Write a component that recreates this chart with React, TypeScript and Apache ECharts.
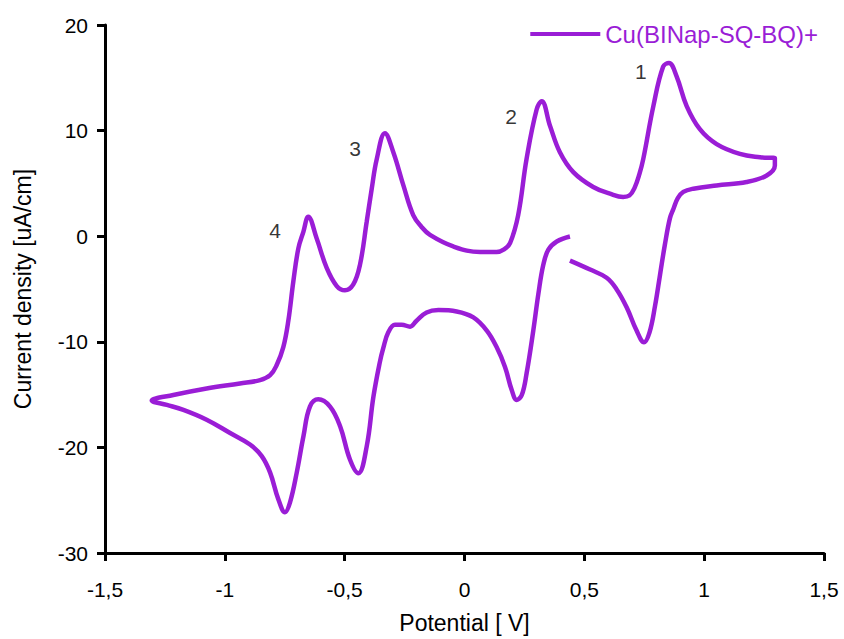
import React, { useEffect, useRef } from "react";
import * as echarts from "echarts";

// Cyclic voltammogram, traced in scan order: start at +0.44 V, sweep cathodic
// to -1.3 V, sweep anodic to +1.3 V, then back to +0.44 V.
const potential: number[] = [
  0.44, 0.385, 0.35, 0.329, 0.308, 0.287, 0.259, 0.239, 0.218, 0.197, 0.169, 0.134,
  0.093, 0.037, -0.033, -0.109, -0.158, -0.2, -0.227, -0.262, -0.29, -0.318, -0.339,
  -0.353, -0.38, -0.408, -0.443, -0.478, -0.519, -0.561, -0.61, -0.645, -0.672, -0.7,
  -0.728, -0.749, -0.777, -0.811, -0.846, -0.895, -0.978, -1.076, -1.173, -1.242, -1.305,
  -1.215, -1.076, -0.937, -0.853, -0.811, -0.784, -0.756, -0.735, -0.714, -0.693,
  -0.672, -0.652, -0.617, -0.575, -0.533, -0.499, -0.464, -0.436, -0.408, -0.387, -0.366,
  -0.332, -0.297, -0.255, -0.214, -0.18, -0.144, -0.047, 0.065, 0.134, 0.165, 0.19, 0.224,
  0.259, 0.301, 0.322, 0.357, 0.398, 0.454, 0.537, 0.607, 0.662, 0.688, 0.71, 0.73,
  0.746, 0.788, 0.829, 0.853, 0.885, 0.927, 0.982, 1.052, 1.149, 1.233, 1.295, 1.295,
  1.261, 1.177, 1.052, 0.955, 0.913, 0.89, 0.872, 0.857, 0.836, 0.816, 0.795, 0.772,
  0.749, 0.718, 0.677, 0.635, 0.593, 0.524, 0.44,
];
const currentDensity: number[] = [
  -0.03, -0.5, -1.28, -2.69, -5.5, -8.94, -13.0, -15.04, -15.5, -14.57, -12.38, -10.5,
  -8.94, -7.69, -7.13, -7.0, -7.22, -8.0, -8.57, -8.38, -8.38, -9.1, -10.6,
  -11.9, -15.2, -19.9, -22.45, -21.14, -18.0, -16.14, -15.45, -16.14, -18.95, -22.39,
  -25.2, -26.14, -24.9, -22.39, -20.83, -19.73, -18.64, -17.38, -16.45, -15.98, -15.57,
  -15.04, -14.42, -13.95, -13.63, -13.16, -12.22, -10.5, -8.0, -4.25, -1.13,
  0.44, 1.85, -0.19, -3.0, -4.72, -5.13, -4.57, -2.69, 1.38, 4.5, 7.32,
  9.76, 7.95, 4.81, 2.0, 0.9, 0.12, -0.97, -1.5, -1.5, -1.25, -0.66, 2.0,
  7.32, 12.0, 12.79, 10.44, 7.95, 6.07, 4.66, 4.03, 3.72, 3.85, 4.6, 5.9,
  7.32, 12.32, 16.07, 16.39, 15.13, 12.32, 10.13, 8.72, 7.79, 7.47, 7.38, 6.69,
  5.75, 5.13, 4.81, 4.5, 4.19, 3.6, 2.6, 1.69, -0.81, -3.63, -6.6, -9.1,
  -10.04, -8.94, -6.75, -5.04, -3.94, -3.16, -2.31,
];

// Redox wave numbers placed beside their anodic peaks
const peakLabels: string[] = ["1", "2", "3", "4"];
const peakLabelX: number[] = [0.736, 0.194, -0.457, -0.79];
const peakLabelY: number[] = [15.57, 11.35, 8.26, 0.56];

const xTicks = { min: -1.5, max: 1.5, interval: 0.5 };
const yTicks = { min: -30, max: 20, interval: 10 };

const seriesName = "Cu(BINap-SQ-BQ)+";
const lineColor = "#9a1dd6";
const font = "Liberation Sans, Arial, sans-serif";

export default function App() {
  const ref = useRef<HTMLDivElement>(null);

  useEffect(() => {
    if (!ref.current) return;
    const chart = echarts.init(ref.current, undefined, { renderer: "svg" });

    // Potential is not monotonic, so the (x, y) pairs keep scan order.
    const cv = potential.map((v, i) => [v, currentDensity[i]]);
    const labels = peakLabels.map((t, i) => ({ value: [peakLabelX[i], peakLabelY[i]], name: t }));

    const axisCommon = {
      axisLine: { show: true, onZero: false, lineStyle: { color: "#000", width: 3 } },
      axisTick: { show: true, length: 8, lineStyle: { color: "#000", width: 3 } },
      splitLine: { show: false },
      nameTextStyle: { color: "#000", fontSize: 23, fontFamily: font },
    };

    chart.setOption({
      animation: false,
      backgroundColor: "#fff",
      grid: { left: 105, right: 20, top: 25, bottom: 81, containLabel: false },
      legend: {
        right: 26,
        top: 22,
        padding: 0,
        icon: "rect",
        itemWidth: 70,
        itemHeight: 4,
        data: [seriesName],
        textStyle: { color: lineColor, fontSize: 24, fontFamily: font },
      },
      xAxis: {
        type: "value",
        ...xTicks,
        name: "Potential [ V]",
        nameLocation: "middle",
        nameGap: 58,
        ...axisCommon,
        axisLabel: {
          color: "#000",
          fontSize: 21,
          fontFamily: font,
          margin: 26,
          formatter: (v: number) => String(v).replace(".", ","),
        },
      },
      yAxis: {
        type: "value",
        ...yTicks,
        name: "Current density [uA/cm]",
        nameLocation: "middle",
        nameGap: 71,
        ...axisCommon,
        axisLabel: {
          color: "#000",
          fontSize: 21,
          fontFamily: font,
          margin: 17,
        },
      },
      series: [
        {
          name: seriesName,
          type: "line",
          data: cv,
          smooth: 0.4,
          showSymbol: false,
          symbol: "none",
          lineStyle: { color: lineColor, width: 4.5 },
          itemStyle: { color: lineColor },
        },
        {
          name: "peaks",
          type: "scatter",
          data: labels,
          symbolSize: 0,
          silent: true,
          label: {
            show: true,
            position: "inside",
            formatter: (p: any) => p.name,
            color: "#000",
            textBorderWidth: 0,
            fontSize: 21,
            fontFamily: font,
          },
        },
      ],
    });

    return () => chart.dispose();
  }, []);

  return (
    <div
      ref={ref}
      style={{ position: "absolute", left: 0, top: 0, width: 844, height: 639 }}
    />
  );
}
